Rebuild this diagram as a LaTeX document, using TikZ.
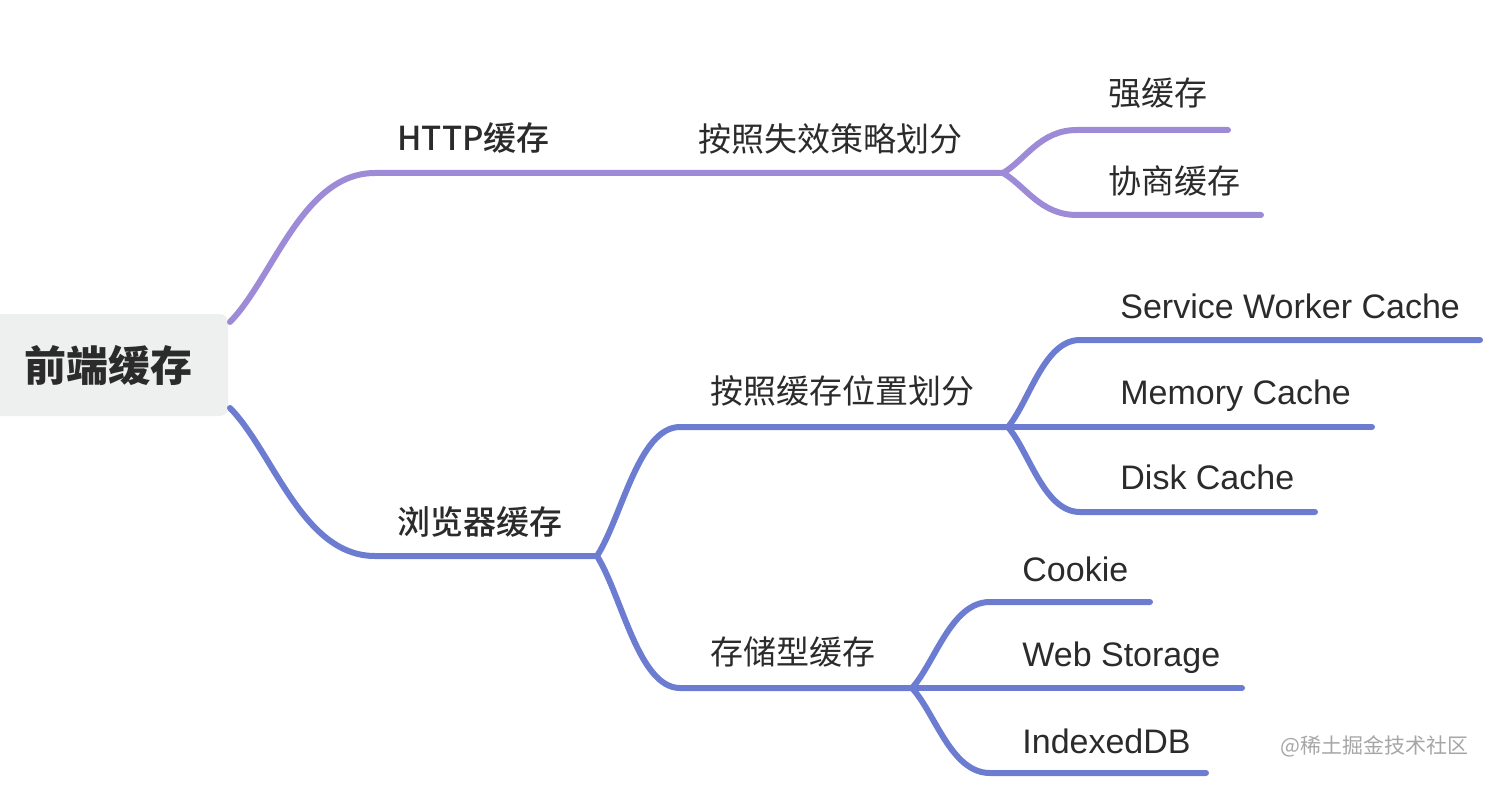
\documentclass[tikz,border=0pt]{standalone}
\usepackage{fontspec}
\setmainfont{Liberation Sans}
\newfontfamily\cjk{Noto Sans CJK SC}
\newfontfamily\cjkmed{Noto Sans CJK SC Medium}
\usetikzlibrary{calc}
\definecolor{httpc}{HTML}{9E8BD8}
\definecolor{brwc}{HTML}{6C7DD1}
\definecolor{txt}{HTML}{2B2B2B}
\definecolor{rootbg}{HTML}{EEF0F0}
\definecolor{wm}{HTML}{A6A6A6}
\begin{document}
\begin{tikzpicture}[x=0.5pt,y=-0.5pt,
  conn/.style={line width=3pt,line cap=round,line join=round},
  mmcurve/.style={to path={let \p1=(\tikztostart),\p2=(\tikztotarget) in
      .. controls ($(\p1)!0.3!(\p2)$) and (\x1/2+\x2/2,\y2) .. (\p2)}},
  lbl/.style={anchor=base west,inner sep=0pt,text=txt,font=\cjk\fontsize{16.5}{20}\selectfont},
  lbllat/.style={anchor=base west,inner sep=0pt,text=txt,font=\fontsize{17}{20}\selectfont},
  lblone/.style={anchor=base west,inner sep=0pt,text=txt,font=\cjkmed\fontsize{16.5}{20}\selectfont},
  rootbox/.style={fill=rootbg,rounded corners=4pt,minimum width=119.5pt,minimum height=51pt,
     inner sep=0pt,text=txt,font=\cjk\bfseries\fontsize{21}{24}\selectfont}]
\useasboundingbox (0,0) rectangle (1506,808);
\begin{scope}
\clip (0,0) rectangle (1506,808);
\node[rootbox] (root) at (108.5,365) {前端缓存};
\end{scope}

% coordinates
\coordinate (r1) at (230,322);
\coordinate (r2) at (230,408);
\coordinate (h0) at (375,173);
\coordinate (h1) at (1003,173);
\coordinate (s1) at (1077,130);
\coordinate (s1e) at (1228,130);
\coordinate (s2) at (1077,215);
\coordinate (s2e) at (1261,215);
\coordinate (b0) at (375,556);
\coordinate (b1) at (597,556);
\coordinate (p0) at (680,427);
\coordinate (p1) at (1008,427);
\coordinate (w1) at (1080,340);
\coordinate (w1e) at (1480,340);
\coordinate (m1e) at (1372,427);
\coordinate (d1) at (1080,512);
\coordinate (d1e) at (1315,512);
\coordinate (q0) at (680,688);
\coordinate (q1) at (912,688);
\coordinate (c1) at (990,602);
\coordinate (c1e) at (1150,602);
\coordinate (ws1e) at (1242,688);
\coordinate (i1) at (990,773);
\coordinate (i1e) at (1206,773);

% HTTP branch
\draw[conn,httpc] (r1) to[mmcurve] (h0) -- (h1);
\draw[conn,httpc] (h1) to[mmcurve] (s1) -- (s1e);
\draw[conn,httpc] (h1) to[mmcurve] (s2) -- (s2e);

% browser branch
\draw[conn,brwc] (r2) to[mmcurve] (b0) -- (b1);
\draw[conn,brwc] (b1) to[mmcurve] (p0) -- (p1);
\draw[conn,brwc] (b1) to[mmcurve] (q0) -- (q1);
\draw[conn,brwc] (p1) to[mmcurve] (w1) -- (w1e);
\draw[conn,brwc] (p1) -- (m1e);
\draw[conn,brwc] (p1) to[mmcurve] (d1) -- (d1e);
\draw[conn,brwc] (q1) to[mmcurve] (c1) -- (c1e);
\draw[conn,brwc] (q1) -- (ws1e);
\draw[conn,brwc] (q1) to[mmcurve] (i1) -- (i1e);

% labels
\node[lblone] (lhttp) at (397,151) {HTTP缓存};
\node[lbl] (lexp) at (698,152) {按照失效策略划分};
\node[lbl] (lstrong) at (1108,106) {强缓存};
\node[lbl] (lneg) at (1108,193) {协商缓存};
\node[lblone] (lbrw) at (397,534) {浏览器缓存};
\node[lbl] (lpos) at (710,403) {按照缓存位置划分};
\node[lbllat] (lsw) at (1120,318) {Service Worker Cache};
\node[lbllat] (lmem) at (1120,404) {Memory Cache};
\node[lbllat] (ldisk) at (1120,489) {Disk Cache};
\node[lbl] (lsto) at (710,664) {存储型缓存};
\node[lbllat] (lck) at (1022,581) {Cookie};
\node[lbllat] (lws) at (1022,666) {Web Storage};
\node[lbllat] (lidb) at (1022,753) {IndexedDB};
\node[anchor=base west,inner sep=0pt,text=wm,font=\cjk\fontsize{10.5}{12}\selectfont] (wmk) at (1280,753) {@稀土掘金技术社区};
\end{tikzpicture}
\end{document}
